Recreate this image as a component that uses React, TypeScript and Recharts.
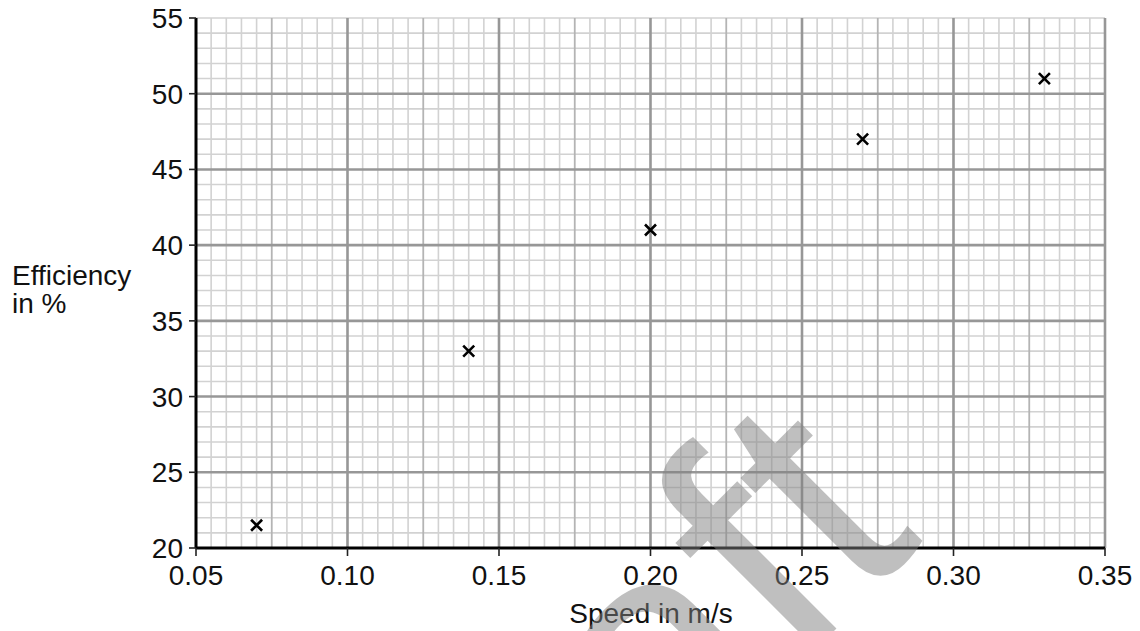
import React from "react";
import {
  ScatterChart, Scatter, XAxis, YAxis, ReferenceLine,
} from "recharts";

// measured points (speed m/s, efficiency %)
const speed = [0.07, 0.14, 0.2, 0.27, 0.33];
const efficiency = [21.5, 33, 41, 47, 51];

const xTicks = [0.05, 0.1, 0.15, 0.2, 0.25, 0.3, 0.35];
const yTicks = [20, 25, 30, 35, 40, 45, 50, 55];

// graph paper: fine every 0.005 / 1, mid every 0.025, bold every 0.05 / 5
const xFine: number[] = [];
for (let i = 1; i <= 60; i++) xFine.push(+(0.05 + i * 0.005).toFixed(3));
const yFine: number[] = [];
for (let v = 21; v <= 55; v++) yFine.push(v);
const xMid = [0.075, 0.125, 0.175, 0.225, 0.275, 0.325];

const data = speed.map((s, i) => ({ x: s, y: efficiency[i] }));

const FONT = "'Liberation Sans', Arial, sans-serif";
const FINE = "#d2d2d2";
const MID = "#b4b4b4";
const BOLD = "#979797";

function Cross(props: any) {
  const { cx, cy } = props;
  const d = 5.5;
  return (
    <path
      d={`M${cx - d},${cy - d}L${cx + d},${cy + d}M${cx + d},${cy - d}L${cx - d},${cy + d}`}
      stroke="#000"
      strokeWidth={2.6}
      fill="none"
    />
  );
}

export default function App() {
  return (
    <div style={{ position: "absolute", left: 0, top: 0, width: 1140, height: 631, fontFamily: FONT, background: "#fff" }}>
      <ScatterChart width={1140} height={631} margin={{ top: 18, right: 35, bottom: 0, left: 0 }}>
        {xFine.filter((v) => !xMid.includes(v) && !xTicks.includes(v)).map((v) => (
          <ReferenceLine key={"xf" + v} x={v} stroke={FINE} strokeWidth={1.6} />
        ))}
        {yFine.filter((v) => !yTicks.includes(v) || v === 55).map((v) => (
          <ReferenceLine key={"yf" + v} y={v} stroke={FINE} strokeWidth={1.6} />
        ))}
        {xMid.map((v) => (
          <ReferenceLine key={"xm" + v} x={v} stroke={MID} strokeWidth={1.8} />
        ))}
        {xTicks.filter((v) => v !== 0.05).map((v) => (
          <ReferenceLine key={"xb" + v} x={v} stroke={BOLD} strokeWidth={2.6} />
        ))}
        {yTicks.filter((v) => v !== 20 && v !== 55).map((v) => (
          <ReferenceLine key={"yb" + v} y={v} stroke={BOLD} strokeWidth={2.6} />
        ))}
        <XAxis
          dataKey="x"
          type="number"
          domain={[0.05, 0.35]}
          ticks={xTicks}
          allowDataOverflow
          height={83}
          tickFormatter={(v) => v.toFixed(2)}
          tick={{ fontSize: 28, fill: "#111", fontFamily: FONT }}
          tickSize={8}
          tickMargin={9}
          axisLine={{ stroke: "#000", strokeWidth: 3 }}
          tickLine={{ stroke: "#222", strokeWidth: 1.6 }}
          label={{
            content: () => (
              <text x={651} y={623} textAnchor="middle" fontSize={28} fill="#111" fontFamily={FONT}>
                Speed in m/s
              </text>
            ),
          }}
        />
        <YAxis
          dataKey="y"
          type="number"
          domain={[20, 55]}
          ticks={yTicks}
          allowDataOverflow
          width={196}
          tick={{ fontSize: 28, fill: "#111", fontFamily: FONT }}
          tickSize={7}
          tickMargin={6}
          axisLine={{ stroke: "#000", strokeWidth: 3 }}
          tickLine={{ stroke: "#222", strokeWidth: 1.6 }}
          label={{
            content: () => (
              <text x={12} fontSize={28} fill="#111" fontFamily={FONT}>
                <tspan x={12} y={285}>Efficiency</tspan>
                <tspan x={12} y={313}>in %</tspan>
              </text>
            ),
          }}
        />
        <Scatter data={data} shape={<Cross />} isAnimationActive={false} />
      </ScatterChart>
      <svg width={1140} height={631} style={{ position: "absolute", left: 0, top: 0, pointerEvents: "none" }}>
        <text
          x={925}
          y={540}
          transform="rotate(-45 925 540)"
          textAnchor="end"
          fontSize={330}
          fontFamily={FONT}
          fill="#808080"
          fillOpacity={0.5}
        >
          Draft
        </text>
      </svg>
    </div>
  );
}
